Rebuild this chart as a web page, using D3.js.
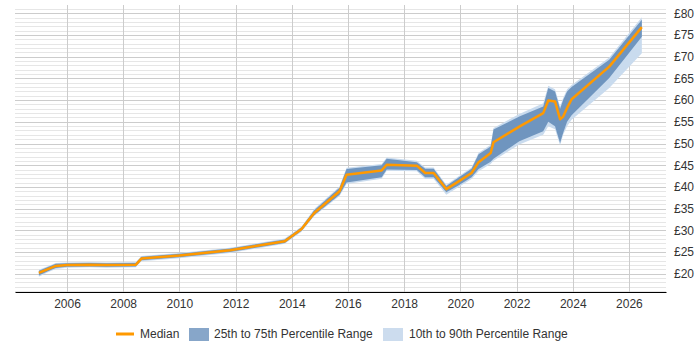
<!DOCTYPE html>
<html lang="en">
<head>
<meta charset="UTF-8">
<title>Rate chart</title>
<script src="https://cdnjs.cloudflare.com/ajax/libs/d3/7.6.1/d3.min.js"></script>
<style>
  body { margin: 0; background: #fff; }
  text { font-family: "Liberation Sans", Arial, sans-serif; }
</style>
</head>
<body>
<svg id="chart" width="700" height="350"></svg>
<script>

// data
const years  = [2005.0, 2005.3, 2005.6, 2006.0, 2006.8, 2007.4, 2008.45, 2008.65, 2010.0, 2011.8,
                2013.75, 2014.35, 2014.8, 2015.7, 2015.95, 2017.2, 2017.38, 2018.45, 2018.75, 2019.05,
                2019.5, 2019.9, 2020.4, 2020.65, 2021.08, 2021.18, 2022.1, 2022.95, 2023.13, 2023.37,
                2023.55, 2023.66, 2023.8, 2023.96, 2025.3, 2026.46];
const median = [20.2, 21.0, 21.8, 22.0, 22.1, 22.0, 22.1, 23.5, 24.2, 25.4,
                27.5, 30.3, 34.0, 39.0, 42.8, 43.8, 45.1, 44.9, 43.2, 43.2,
                39.5, 41.1, 43.2, 45.7, 47.8, 50.3, 53.9, 57.0, 59.9, 59.7,
                55.6, 56.2, 58.2, 60.2, 67.7, 76.8];
const p25    = [19.6, 20.5, 21.3, 21.6, 21.7, 21.6, 21.7, 23.1, 23.8, 25.0,
                27.1, 29.9, 33.5, 38.2, 41.0, 42.2, 44.0, 43.9, 42.2, 42.2,
                38.8, 40.2, 42.2, 44.1, 45.8, 46.5, 50.5, 52.8, 55.0, 54.0,
                50.1, 52.5, 55.0, 56.5, 65.1, 74.6];
const p75    = [20.7, 21.5, 22.3, 22.4, 22.5, 22.4, 22.5, 23.9, 24.6, 25.8,
                27.9, 30.7, 34.6, 39.8, 44.1, 45.0, 46.5, 45.7, 44.2, 44.2,
                40.2, 42.0, 44.2, 47.5, 49.3, 53.2, 56.2, 58.5, 62.8, 62.0,
                58.0, 60.0, 62.0, 63.0, 69.3, 78.5];
const p10    = [19.3, 20.3, 21.1, 21.4, 21.5, 21.4, 21.5, 22.9, 23.6, 24.8,
                26.9, 29.7, 33.3, 37.9, 40.7, 41.9, 43.7, 43.6, 41.8, 41.8,
                38.2, 39.8, 41.8, 43.6, 45.3, 46.0, 49.8, 52.0, 54.0, 53.3,
                49.6, 52.0, 54.0, 55.5, 62.8, 70.8];
const p90    = [20.9, 21.7, 22.5, 22.6, 22.7, 22.6, 22.7, 24.1, 24.8, 26.0,
                28.1, 30.9, 34.9, 40.1, 44.4, 45.3, 46.8, 46.0, 44.5, 44.5,
                40.5, 42.3, 44.5, 47.9, 49.7, 53.6, 56.8, 59.3, 63.3, 62.5,
                58.5, 60.5, 62.5, 63.5, 69.8, 79.1];

const xTicks = [2006, 2008, 2010, 2012, 2014, 2016, 2018, 2020, 2022, 2024, 2026];
const yTicks = [20, 25, 30, 35, 40, 45, 50, 55, 60, 65, 70, 75, 80];
const legendLabels = ["Median", "25th to 75th Percentile Range", "10th to 90th Percentile Range"];

const rows = years.map((y, i) => ({
  year: y, med: median[i], p25: p25[i], p75: p75[i], p10: p10[i], p90: p90[i]
}));

const svg = d3.select("#chart");
const plotL = 15, plotR = 666, plotT = 5, plotB = 292;

const x = d3.scaleLinear().domain([2004.15, 2027.32]).range([plotL, plotR]);
const y = d3.scaleLinear().domain([15.8, 81.9]).range([plotB, plotT]);

// minor gridlines every £1
const minor = d3.range(16, 82).filter(v => v % 5 !== 0);
svg.append("g")
  .selectAll("line")
  .data(minor)
  .join("line")
  .attr("x1", plotL).attr("x2", plotR)
  .attr("y1", d => Math.round(y(d)) + 0.5).attr("y2", d => Math.round(y(d)) + 0.5)
  .attr("stroke", "#e6e6e6");

// major gridlines
svg.append("g")
  .selectAll("line")
  .data(yTicks)
  .join("line")
  .attr("x1", plotL).attr("x2", plotR)
  .attr("y1", d => Math.round(y(d)) + 0.5).attr("y2", d => Math.round(y(d)) + 0.5)
  .attr("stroke", "#cccccc");

svg.append("g")
  .selectAll("line")
  .data(xTicks)
  .join("line")
  .attr("x1", d => Math.round(x(d)) + 0.5).attr("x2", d => Math.round(x(d)) + 0.5)
  .attr("y1", plotT).attr("y2", plotB)
  .attr("stroke", "#cccccc");

// bands
const area = (lo, hi) => d3.area()
  .x(d => x(d.year))
  .y0(d => y(d[lo]))
  .y1(d => y(d[hi]));

svg.append("path")
  .attr("d", area("p10", "p90")(rows))
  .attr("fill", "#c9dbee");

svg.append("path")
  .attr("d", area("p25", "p75")(rows))
  .attr("fill", "#6f95bf");

svg.append("path")
  .attr("d", d3.line().x(d => x(d.year)).y(d => y(d.med))(rows))
  .attr("fill", "none")
  .attr("stroke", "#ff9900")
  .attr("stroke-width", 2.5)
  .attr("stroke-linejoin", "round");

// x axis
const xAxis = svg.append("g")
  .attr("transform", `translate(0,${plotB})`)
  .call(d3.axisBottom(x).tickValues(xTicks).tickFormat(d3.format("d")).tickSize(0).tickPadding(7));
xAxis.select(".domain").attr("stroke", "#000");
xAxis.selectAll("text").attr("font-size", 12).attr("fill", "#333");

// y axis on the right
const yAxis = svg.append("g")
  .attr("transform", `translate(${plotR},0)`)
  .call(d3.axisRight(y).tickValues(yTicks).tickFormat(d => "£" + d).tickSize(0).tickPadding(8));
yAxis.select(".domain").remove();
yAxis.selectAll("text").attr("font-size", 12).attr("fill", "#333");

// legend
const lg = svg.append("g").attr("transform", "translate(0,334)");
lg.append("line").attr("x1", 116).attr("x2", 134).attr("y1", 0).attr("y2", 0)
  .attr("stroke", "#ff9900").attr("stroke-width", 3);
lg.append("text").attr("x", 140).attr("y", 4).attr("font-size", 12).attr("fill", "#333").text(legendLabels[0]);
lg.append("rect").attr("x", 189).attr("y", -6).attr("width", 20).attr("height", 13).attr("fill", "#87a6c9");
lg.append("text").attr("x", 214).attr("y", 4).attr("font-size", 12).attr("fill", "#333").text(legendLabels[1]);
lg.append("rect").attr("x", 383).attr("y", -6).attr("width", 20).attr("height", 13).attr("fill", "#ccdcee");
lg.append("text").attr("x", 409).attr("y", 4).attr("font-size", 12).attr("fill", "#333").text(legendLabels[2]);

</script>
</body>
</html>
